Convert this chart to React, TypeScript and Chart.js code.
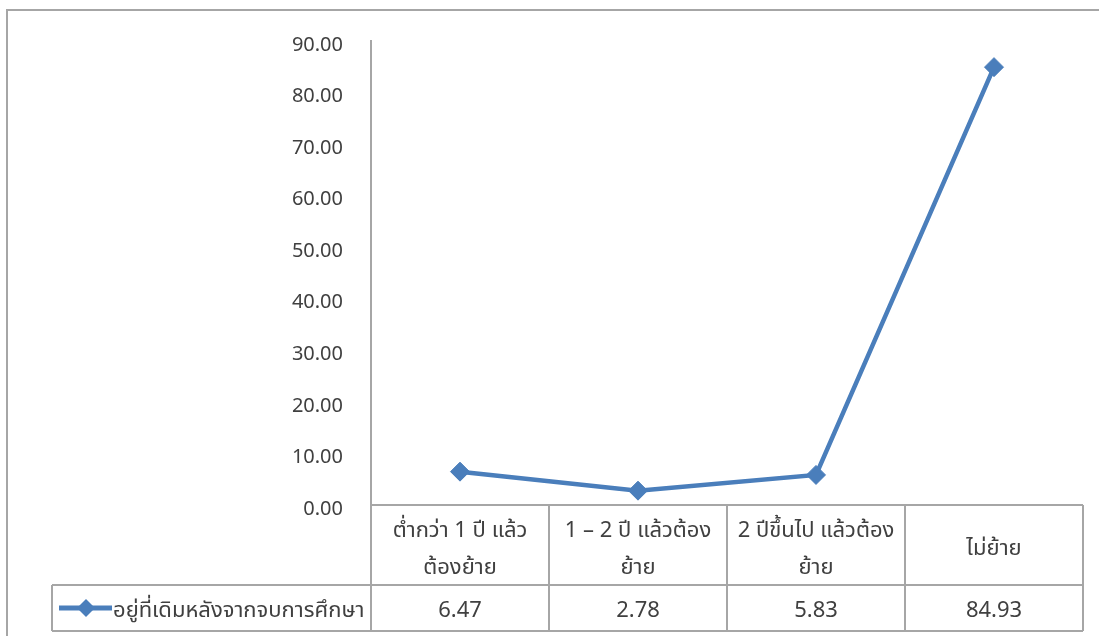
import React, { useEffect, useRef } from "react";
import { Chart, registerables } from "chart.js";

Chart.register(...registerables);

const categories: string[][] = [
  ["ต่ำกว่า 1 ปี แล้ว", "ต้องย้าย"],
  ["1 – 2 ปี แล้วต้อง", "ย้าย"],
  ["2 ปีขึ้นไป แล้วต้อง", "ย้าย"],
  ["ไม่ย้าย"],
];
const seriesName = "อยู่ที่เดิมหลังจากจบการศึกษา";
const seriesValues: number[] = [6.47, 2.78, 5.83, 84.93];
const yTicksMin = 0;
const yTicksMax = 90;
const yTickStep = 10;

const FONT = "'Noto Sans', 'Noto Sans Thai', Tahoma, sans-serif";
const TEXT = "#404040";
const GRID = "#A6A6A6";
const BLUE = "#4A7EBB";

const tablePlugin = {
  id: "dataTable",
  beforeDraw(chart: any) {
    const ctx = chart.ctx;
    ctx.save();
    ctx.fillStyle = "#ffffff";
    ctx.fillRect(0, 0, chart.width, chart.height);
    ctx.strokeStyle = GRID;
    ctx.lineWidth = 2;
    ctx.strokeRect(7, 10, chart.width + 50, chart.height + 50);
    ctx.restore();
  },
  afterDraw(chart: any) {
    const ctx = chart.ctx;
    const xs = chart.scales.x;
    const area = chart.chartArea;
    const n = categories.length;
    const colW = (area.right - area.left) / n;
    const top = area.bottom;
    const row1 = top + 80;
    const row2 = row1 + 46;
    const legendLeft = 52;
    ctx.save();
    ctx.strokeStyle = GRID;
    ctx.lineWidth = 2;
    ctx.beginPath();
    ctx.moveTo(area.left, top);
    ctx.lineTo(area.right, top);
    ctx.moveTo(legendLeft, row1);
    ctx.lineTo(area.right, row1);
    ctx.moveTo(legendLeft, row2);
    ctx.lineTo(area.right, row2);
    ctx.moveTo(legendLeft, row1);
    ctx.lineTo(legendLeft, row2);
    for (let i = 0; i <= n; i++) {
      const x = area.left + i * colW;
      ctx.moveTo(x, top);
      ctx.lineTo(x, row2);
    }
    ctx.stroke();

    ctx.fillStyle = TEXT;
    ctx.font = `22px ${FONT}`;
    ctx.textAlign = "center";
    ctx.textBaseline = "middle";
    categories.forEach((lines, i) => {
      const cx = xs.getPixelForValue(i);
      const lh = 37;
      const mid = (top + row1) / 2 + 4;
      const start = mid - ((lines.length - 1) * lh) / 2;
      lines.forEach((l, j) => ctx.fillText(l, cx, start + j * lh));
      ctx.fillText(seriesValues[i].toFixed(2), cx, (row1 + row2) / 2 + 3);
    });

    // legend key
    const ly = (row1 + row2) / 2;
    ctx.strokeStyle = BLUE;
    ctx.lineWidth = 5;
    ctx.beginPath();
    ctx.moveTo(59, ly);
    ctx.lineTo(112, ly);
    ctx.stroke();
    ctx.fillStyle = BLUE;
    ctx.beginPath();
    ctx.moveTo(86, ly - 9);
    ctx.lineTo(95, ly);
    ctx.lineTo(86, ly + 9);
    ctx.lineTo(77, ly);
    ctx.closePath();
    ctx.fill();
    ctx.fillStyle = TEXT;
    ctx.textAlign = "left";
    ctx.fillText(seriesName, 113, ly + 3);
    ctx.restore();
  },
};

export default function App() {
  const ref = useRef<HTMLCanvasElement | null>(null);
  useEffect(() => {
    if (!ref.current) return;
    const chart = new Chart(ref.current, {
      type: "line",
      data: {
        labels: categories,
        datasets: [
          {
            label: seriesName,
            data: seriesValues,
            borderColor: BLUE,
            backgroundColor: BLUE,
            borderWidth: 4.5,
            pointStyle: "rectRot",
            pointRadius: 9.5,
            pointBorderWidth: 1,
            pointBorderColor: BLUE,
            pointBackgroundColor: BLUE,
            tension: 0,
          },
        ],
      },
      options: {
        animation: false,
        responsive: false,
        maintainAspectRatio: false,
        layout: { padding: { left: 0, right: 16, top: 41, bottom: 131 } },
        plugins: { legend: { display: false }, tooltip: { enabled: false } },
        scales: {
          x: {
            display: false,
            offset: true,
          },
          y: {
            min: yTicksMin,
            max: yTicksMax,
            afterFit(scale: any) {
              scale.width = 371;
            },
            ticks: {
              stepSize: yTickStep,
              padding: 28,
              labelOffset: 4,
              color: TEXT,
              font: { size: 20, family: FONT },
              callback: (v: any) => Number(v).toFixed(2),
            },
            grid: { display: false, drawTicks: false },
            border: { display: true, color: GRID, width: 2 },
          },
        },
      },
      plugins: [tablePlugin],
    });
    return () => chart.destroy();
  }, []);
  return (
    <div style={{ position: "fixed", left: 0, top: 0, width: 1099, height: 636 }}>
      <canvas ref={ref} width={1099} height={636} style={{ width: 1099, height: 636 }} />
    </div>
  );
}
